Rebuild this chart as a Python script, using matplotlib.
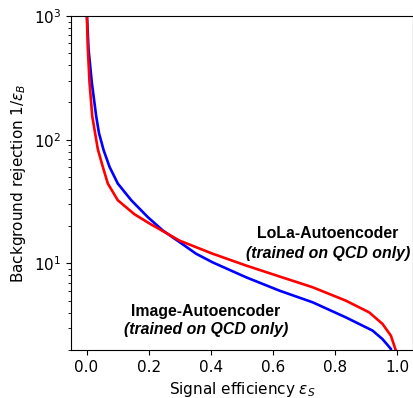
import numpy as np
import matplotlib.pyplot as plt

# LoLa-Autoencoder ROC (red)
lola_eff = [0.0, 0.0042, 0.0096, 0.0183, 0.0363, 0.0524, 0.0685, 0.1006, 0.154, 0.203,
            0.25, 0.299, 0.406, 0.513, 0.620, 0.727, 0.834, 0.909, 0.952, 0.979, 0.995, 1.0]
lola_rej = [1200, 541, 289, 155, 83.8, 60.3, 44.2, 32.4, 25.0, 21.0,
            18.0, 15.3, 11.98, 9.63, 7.86, 6.43, 5.01, 4.03, 3.25, 2.61, 1.98, 1.0]

# Image-Autoencoder ROC (blue)
img_eff = [0.0, 0.0064, 0.017, 0.031, 0.040, 0.055, 0.074, 0.1006, 0.144, 0.197, 0.245,
           0.299, 0.352, 0.406, 0.513, 0.620, 0.727, 0.834, 0.920, 0.952, 0.979, 1.0]
img_rej = [1200, 541, 289, 155, 113, 82.2, 60.3, 44.2, 32.4, 23.7, 18.5,
           14.9, 12.0, 10.2, 7.74, 6.04, 4.86, 3.67, 2.87, 2.45, 2.04, 1.0]

fig = plt.figure(figsize=(4.14, 3.98), dpi=100)
ax = fig.add_axes([0.1715, 0.1206, 0.826, 0.8394])

ax.plot(img_eff, img_rej, color='blue', lw=1.9)
ax.plot(lola_eff, lola_rej, color='red', lw=1.9)

ax.set_yscale('log')
ax.set_xlim(-0.05, 1.05)
ax.set_ylim(2, 1000)
ax.set_xticks([0.0, 0.2, 0.4, 0.6, 0.8, 1.0])
ax.tick_params(labelsize=11)
ax.set_xlabel(r'Signal efficiency $\varepsilon_S$', fontsize=11)
ax.set_ylabel(r'Background rejection 1/$\varepsilon_B$', fontsize=11)

lab = dict(family='Liberation Sans', fontweight='bold', fontsize=11.4,
           ha='center', va='center', transform=ax.transAxes)
ax.text(0.751, 0.35, 'LoLa-Autoencoder', **lab)
ax.text(0.751, 0.29, '(trained on QCD only)', style='italic', **lab)
ax.text(0.395, 0.115, 'Image-Autoencoder', **lab)
ax.text(0.395, 0.06, '(trained on QCD only)', style='italic', **lab)

fig.savefig('out.png', dpi=100)
